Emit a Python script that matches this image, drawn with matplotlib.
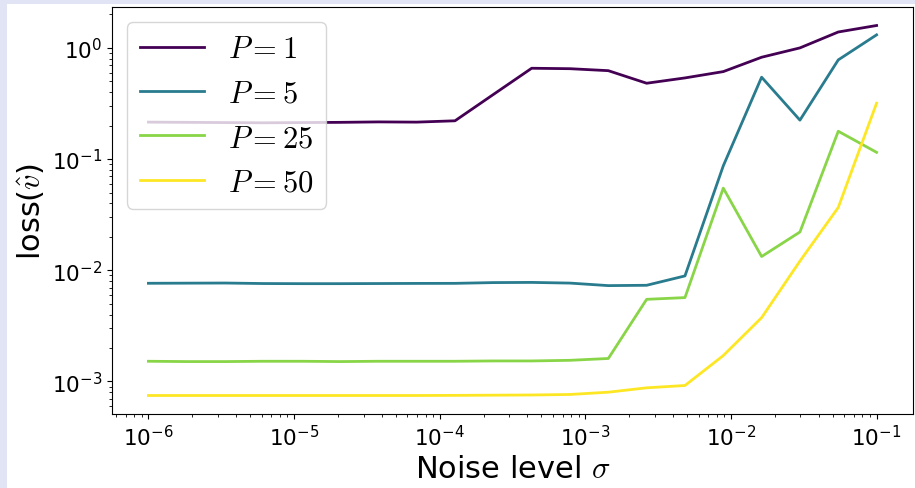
import numpy as np
import matplotlib
matplotlib.use("Agg")
import matplotlib.pyplot as plt
from matplotlib.patches import Rectangle

plt.rcParams['mathtext.fontset'] = 'cm'
plt.rcParams['axes.unicode_minus'] = False

# noise levels: 20 log-spaced values from 1e-6 to 1e-1
sigma = np.logspace(-6, -1, 20)
P_values = [1, 5, 25, 50]

loss_P1 = [0.215, 0.214, 0.213, 0.212, 0.213, 0.214, 0.216, 0.215, 0.221, 0.381,
           0.656, 0.650, 0.624, 0.481, 0.537, 0.612, 0.824, 1.00, 1.39, 1.59]
loss_P5 = [0.00764, 0.00766, 0.00768, 0.00760, 0.00758, 0.00758, 0.00760, 0.00762, 0.00763, 0.00775,
           0.00778, 0.00767, 0.00728, 0.00733, 0.0089, 0.087, 0.545, 0.224, 0.78, 1.31]
loss_P25 = [0.00152, 0.00151, 0.00151, 0.00152, 0.00152, 0.00151, 0.00152, 0.00152, 0.00152, 0.00153,
            0.00153, 0.00155, 0.00161, 0.00548, 0.00568, 0.0548, 0.0133, 0.0221, 0.178, 0.115]
loss_P50 = [0.000748, 0.000748, 0.000748, 0.000748, 0.000748, 0.000748, 0.000748, 0.000748, 0.000750, 0.000753,
            0.000756, 0.000764, 0.000801, 0.000877, 0.00092, 0.00171, 0.00375, 0.0121, 0.0367, 0.318]
losses = [loss_P1, loss_P5, loss_P25, loss_P50]

fig = plt.figure(figsize=(9.15, 4.89), dpi=100, facecolor='#e1e4f5')
# white page area (the reference has a lavender strip on the top and left)
fig.patches.append(Rectangle((7 / 915, 0), 1, 1 - 5 / 489, transform=fig.transFigure,
                             facecolor='white', edgecolor='none', zorder=-1))
ax = fig.add_axes([112 / 915, 1 - 415 / 489, (913 - 112) / 915, (415 - 8) / 489])

for P, loss in zip(P_values, losses):
    ax.plot(sigma, loss, color=plt.cm.viridis(np.log(P) / np.log(50)),
            linewidth=2, label=r'$P=%d$' % P)

ax.set_xscale('log')
ax.set_yscale('log')
ax.set_xlabel(r'Noise level $\sigma$', fontsize=22)
ax.set_ylabel(r'loss($\hat{v}$)', fontsize=22)
ax.tick_params(axis='both', which='major', labelsize=15.5)
ax.legend(loc='upper left', fontsize=22, handlelength=2.1)

fig.savefig('out.png', dpi=100)
